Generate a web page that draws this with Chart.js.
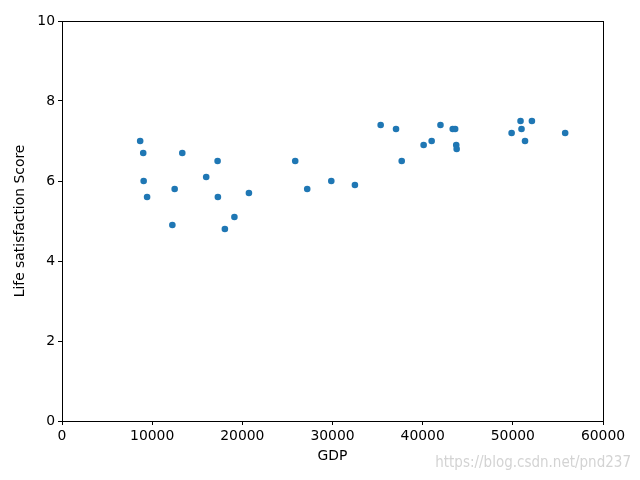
<!DOCTYPE html>
<html lang="en">
<head>
    <meta charset="UTF-8">
    <title>GDP vs Life satisfaction</title>
    <script src="https://cdn.jsdelivr.net/npm/chart.js"></script>
    <style>
        html, body { margin: 0; padding: 0; background: #fff; }
        #wrap { width: 640px; height: 480px; }
    </style>
</head>
<body>
    <div id="wrap"><canvas id="scatterChart" width="640" height="480"></canvas></div>

    <script>
        // GDP per capita (x) and life satisfaction (y)
        const gdp = [
            8670, 9009, 9055, 9437, 12240, 12495, 13341, 15992, 17257, 17288,
            18064, 19122, 20732, 25865, 27195, 29867, 32486, 35343, 37045, 37675,
            40107, 40997, 41974, 43332, 43603, 43724, 43771, 49866, 50855, 50962,
            51351, 52114, 55805
        ];
        const lifeSat = [
            7.0, 6.7, 6.0, 5.6, 4.9, 5.8, 6.7, 6.1, 6.5, 5.6,
            4.8, 5.1, 5.7, 6.5, 5.8, 6.0, 5.9, 7.4, 7.3, 6.5,
            6.9, 7.0, 7.4, 7.3, 7.3, 6.9, 6.8, 7.2, 7.5, 7.3,
            7.0, 7.5, 7.2
        ];
        const xTicks = [0, 10000, 20000, 30000, 40000, 50000, 60000];
        const yTicks = [0, 2, 4, 6, 8, 10];

        const points = gdp.map((g, i) => ({ x: g, y: lifeSat[i] }));

        Chart.defaults.font.family = "'DejaVu Sans', sans-serif";
        Chart.defaults.font.size = 13.9;
        Chart.defaults.color = '#000';

        // frame round the plot + watermark
        const framePlugin = {
            id: 'frame',
            afterDraw(chart) {
                const { ctx, chartArea: a } = chart;
                ctx.save();
                ctx.strokeStyle = '#000';
                ctx.lineWidth = 1;
                ctx.strokeRect(a.left + 0.5, a.top + 0.5, a.right - a.left, a.bottom - a.top);
                ctx.fillStyle = 'rgba(200,200,200,0.8)';
                ctx.font = "15px 'Liberation Sans Narrow', 'DejaVu Sans Condensed', sans-serif";
                ctx.textAlign = 'right';
                ctx.textBaseline = 'alphabetic';
                ctx.fillText('https://blog.csdn.net/pnd237', 631, 467);
                ctx.restore();
            }
        };

        const ctx = document.getElementById('scatterChart').getContext('2d');
        new Chart(ctx, {
            type: 'scatter',
            data: {
                datasets: [{
                    data: points,
                    backgroundColor: '#1f77b4',
                    borderWidth: 0,
                    pointRadius: 3.3,
                    pointHoverRadius: 3.3
                }]
            },
            options: {
                responsive: false,
                animation: false,
                plugins: { legend: { display: false }, tooltip: { enabled: false } },
                layout: { padding: { top: 21, right: 37, left: 0, bottom: 0 } },
                scales: {
                    x: {
                        type: 'linear',
                        min: 0,
                        max: 60000,
                        afterBuildTicks(scale) { scale.ticks = xTicks.map(v => ({ value: v })); },
                        afterFit(scale) { scale.height = 59; },
                        ticks: { padding: 3, maxRotation: 0, callback: v => String(v) },
                        grid: { display: true, drawOnChartArea: false, tickLength: 4, color: '#000' },
                        border: { display: true, color: '#000' },
                        title: { display: true, text: 'GDP', padding: { top: 4, bottom: 15 } }
                    },
                    y: {
                        type: 'linear',
                        min: 0,
                        max: 10,
                        afterBuildTicks(scale) { scale.ticks = yTicks.map(v => ({ value: v })); },
                        afterFit(scale) { scale.width = 62; },
                        ticks: { padding: 3, callback: v => String(v) },
                        grid: { display: true, drawOnChartArea: false, tickLength: 4, color: '#000' },
                        border: { display: true, color: '#000' },
                        title: { display: true, text: 'Life satisfaction Score', padding: { top: 12, bottom: 4 } }
                    }
                }
            },
            plugins: [framePlugin]
        });
    </script>
</body>
</html>
